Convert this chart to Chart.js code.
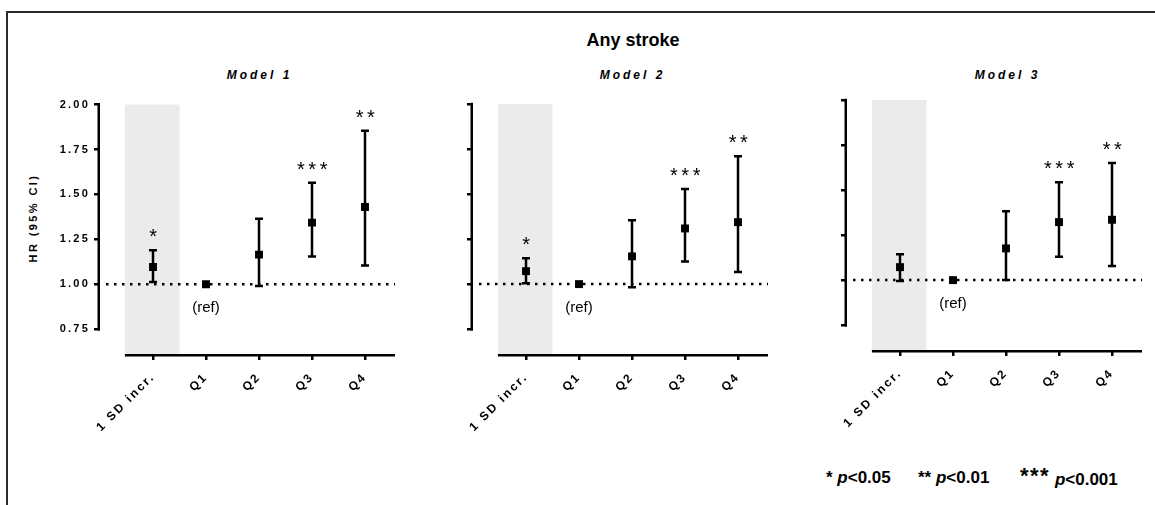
<!DOCTYPE html>
<html>
<head>
<meta charset="utf-8">
<script src="https://cdn.jsdelivr.net/npm/chart.js@4/dist/chart.umd.min.js"></script>
<style>
  body { margin: 0; width: 1155px; height: 505px; overflow: hidden; position: relative; background: #fff;
         font-family: "Liberation Sans", Arial, sans-serif; color: #000; }
  .frame { position: absolute; left: 6px; top: 11px; width: 1170px; height: 520px;
           border-left: 2px solid #2b2b2b; border-top: 2px solid #2b2b2b; }
  .panel { position: absolute; }
  .txt { position: absolute; white-space: nowrap; }
  .main { left: 533px; width: 200px; top: 30px; text-align: center; font: bold 18px/20px "Liberation Sans", Arial, sans-serif; }
  .model { width: 200px; top: 68px; text-align: center; font: italic bold 12px/14px "Liberation Sans", Arial, sans-serif;
           letter-spacing: 3px; text-indent: 3px; }
  .ytitle { left: 33px; top: 218px; font: bold 11px/12px "Liberation Sans", Arial, sans-serif; letter-spacing: 2.4px;
            transform: translate(-50%, -50%) rotate(-90deg); }
  .leg { top: 468px; font: bold 17px/20px "Liberation Sans", Arial, sans-serif; }
  .leg i { font-style: italic; }
  .big { font-size: 22px; letter-spacing: 1.5px; position: relative; top: -2px; }
</style>
</head>
<body>
<div class="frame"></div>
<div class="txt main">Any stroke</div>
<div class="txt model" style="left:158px">Model 1</div>
<div class="txt model" style="left:531px">Model 2</div>
<div class="txt model" style="left:906px">Model 3</div>
<div class="txt ytitle">HR (95% CI)</div>

<div class="panel" style="left:30px;top:94px"><canvas id="m1" width="373" height="350"></canvas></div>
<div class="panel" style="left:403px;top:94px"><canvas id="m2" width="373" height="350"></canvas></div>
<div class="panel" style="left:777px;top:90px"><canvas id="m3" width="373" height="350"></canvas></div>

<div class="txt leg" style="left:826px">* <i>p</i>&lt;0.05</div>
<div class="txt leg" style="left:918px">** <i>p</i>&lt;0.01</div>
<div class="txt leg" style="left:1020px"><span class="big">***</span> <i>p</i>&lt;0.001</div>

<script>
// categories and tick values
const categories = ['1 SD incr.', 'Q1', 'Q2', 'Q3', 'Q4'];
const yTicks = [0.75, 1.00, 1.25, 1.50, 1.75, 2.00];

// Model 1 : HR, lower / upper 95% CI, significance
const hr1  = [1.096, 1.00, 1.165, 1.343, 1.430];
const lo1  = [1.013, 1.00, 0.990, 1.154, 1.105];
const hi1  = [1.190, 1.00, 1.365, 1.565, 1.855];
const sig1 = ['*', '', '', '***', '**'];

// Model 2
const hr2  = [1.072, 1.00, 1.154, 1.309, 1.344];
const lo2  = [1.005, 1.00, 0.983, 1.126, 1.067];
const hi2  = [1.143, 1.00, 1.355, 1.528, 1.710];
const sig2 = ['*', '', '', '***', '**'];

// Model 3
const hr3  = [1.072, 1.00, 1.176, 1.322, 1.335];
const lo3  = [0.995, 1.00, 1.000, 1.130, 1.078];
const hi3  = [1.143, 1.00, 1.382, 1.544, 1.650];
const sig3 = ['', '', '', '***', '**'];

const refIndex = 1;
const FONT = '"Liberation Sans", Arial, sans-serif';

/* === shading, dotted ref line, error bars, stars, axis lines === */
const decor = {
  id: 'decor',
  beforeDraw(chart) { chart.ctx.letterSpacing = '2.2px'; },
  beforeDatasetsDraw(chart) {
    const { ctx, chartArea: a, scales: { x, y } } = chart;
    const p = chart.options.plugins.decor;
    ctx.save();
    // grey band behind first category
    ctx.fillStyle = '#ebebeb';
    const x0 = x.getPixelForValue(-0.53), x1 = x.getPixelForValue(0.5);
    ctx.fillRect(x0, y.getPixelForValue(2.0), x1 - x0, a.bottom - y.getPixelForValue(2.0));
    // dotted line at HR = 1
    ctx.strokeStyle = '#000';
    ctx.lineWidth = 2.5;
    ctx.setLineDash([2.5, 5.5]);
    const y1 = y.getPixelForValue(1.0);
    ctx.beginPath(); ctx.moveTo(a.left + 6, y1); ctx.lineTo(a.right, y1); ctx.stroke();
    ctx.setLineDash([]);
    // error bars
    p.lo.forEach((lo, i) => {
      const hi = p.hi[i];
      if (lo === hi) return;
      const px = x.getPixelForValue(i), pl = y.getPixelForValue(lo), ph = y.getPixelForValue(hi);
      ctx.beginPath();
      ctx.moveTo(px, pl); ctx.lineTo(px, ph);
      ctx.moveTo(px - 4, pl); ctx.lineTo(px + 4, pl);
      ctx.moveTo(px - 4, ph); ctx.lineTo(px + 4, ph);
      ctx.stroke();
    });
    ctx.restore();
  },
  afterDatasetsDraw(chart) {
    const { ctx, chartArea: a, scales: { x, y } } = chart;
    const p = chart.options.plugins.decor;
    ctx.save();
    ctx.fillStyle = '#000';
    ctx.textAlign = 'center';
    ctx.textBaseline = 'alphabetic';
    // significance stars
    ctx.font = '20px ' + FONT;
    ctx.letterSpacing = '3.5px';
    p.sig.forEach((s, i) => {
      if (!s) return;
      ctx.fillText(s, x.getPixelForValue(i) + 2, y.getPixelForValue(p.hi[i]) - 7);
    });
    // (ref) label
    ctx.letterSpacing = '0px';
    ctx.font = '15px ' + FONT;
    ctx.textBaseline = 'middle';
    ctx.fillText('(ref)', x.getPixelForValue(refIndex), y.getPixelForValue(1.0) + 24);
    // axis lines
    ctx.strokeStyle = '#000';
    ctx.lineWidth = 2.5;
    ctx.beginPath();
    ctx.moveTo(a.left - 1.25, y.getPixelForValue(2.0) - 1.25);
    ctx.lineTo(a.left - 1.25, y.getPixelForValue(0.75) + 1.25);
    ctx.moveTo(x.getPixelForValue(-0.53), a.bottom + 1.25);
    ctx.lineTo(a.right, a.bottom + 1.25);
    ctx.stroke();
    ctx.restore();
  }
};

function makePanel(id, hr, lo, hi, sig, showLabels) {
  const tickFont = { family: FONT, size: 11, weight: 'bold' };
  return new Chart(document.getElementById(id), {
    type: 'scatter',
    data: {
      datasets: [{
        data: hr.map((v, i) => ({ x: i, y: v })),
        pointStyle: 'rect',
        pointRadius: 5.6,
        backgroundColor: '#000',
        borderColor: '#000',
        borderWidth: 0
      }]
    },
    options: {
      responsive: false,
      animation: false,
      events: [],
      layout: { padding: { top: 10, right: 8, left: 0, bottom: 0 } },
      plugins: {
        legend: { display: false },
        tooltip: { enabled: false },
        decor: { lo, hi, sig }
      },
      scales: {
        x: {
          type: 'linear',
          min: -1,
          max: 4.566,
          afterBuildTicks: (s) => { s.ticks = categories.map((c, i) => ({ value: i })); },
          afterFit: (s) => { s.height = 90; },
          ticks: {
            callback: (v) => categories[v],
            minRotation: 45,
            maxRotation: 45,
            autoSkip: false,
            color: '#000',
            font: { family: FONT, size: 12, weight: 'bold' },
            padding: 10
          },
          grid: { drawOnChartArea: false, drawTicks: true, tickLength: 6, lineWidth: 2.5, color: '#000' },
          border: { display: false }
        },
        y: {
          min: 0.612,
          max: 2.0,
          afterBuildTicks: (s) => { s.ticks = yTicks.map((v) => ({ value: v })); },
          afterFit: (s) => { s.width = 70; },
          ticks: {
            display: showLabels,
            callback: (v) => v.toFixed(2),
            color: '#000',
            font: tickFont,
            padding: 4
          },
          grid: { drawOnChartArea: false, drawTicks: true, tickLength: 6, lineWidth: 2.5, color: '#000' },
          border: { display: false }
        }
      }
    },
    plugins: [decor]
  });
}

makePanel('m1', hr1, lo1, hi1, sig1, true);
makePanel('m2', hr2, lo2, hi2, sig2, false);
makePanel('m3', hr3, lo3, hi3, sig3, false);
</script>
</body>
</html>
